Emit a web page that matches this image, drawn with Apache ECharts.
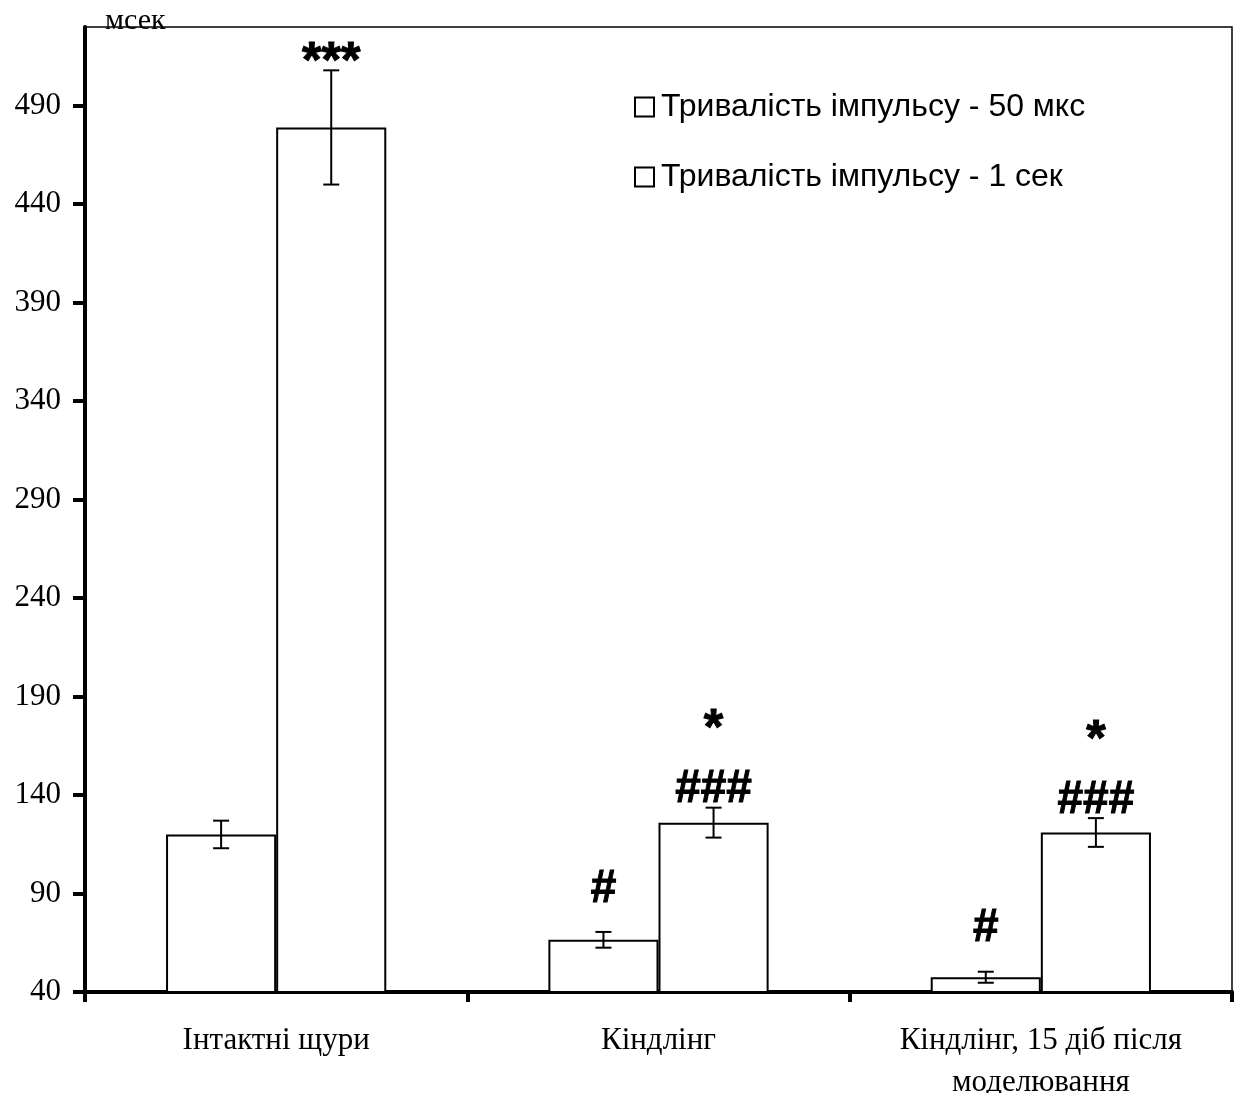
<!DOCTYPE html>
<html>
<head>
<meta charset="utf-8">
<script src="https://cdn.jsdelivr.net/npm/echarts@6/dist/echarts.min.js"></script>
<style>
html,body{margin:0;padding:0;background:#fff;}
#chart{width:1237px;height:1093px;}
</style>
</head>
<body>
<div id="chart"></div>
<script>
// ---- data ----
const categories = ['Інтактні щури', 'Кіндлінг', 'Кіндлінг, 15 діб після\nмоделювання'];
const seriesNames = ['Тривалість імпульсу - 50 мкс', 'Тривалість імпульсу - 1 сек'];
const mean50us = [120, 66.5, 47.5];
const err50us = [7, 4, 2.8];
const mean1s = [479, 126, 121];
const err1s = [29, 7.6, 7.3];
const annot50us = [[], ['#'], ['#']];
const annot1s = [['***'], ['###', '*'], ['###', '*']];
const yTicks = [40, 90, 140, 190, 240, 290, 340, 390, 440, 490];
const yMin = 40, yMax = 530;
const unitLabel = 'мсек';

// ---- styles ----
const BAR_FRAC = 0.288;
const SERIF = '"Liberation Serif", "Times New Roman", serif';
const SANS = '"Liberation Sans", Arial, sans-serif';
const annotLift = { '#': 43, '###': 18, '***': 20, '*': 90 };
const glyphShift = { '#': 0, '###': 0, '***': 13, '*': 13 };

function makeErr(side, annots) {
  return function (params, api) {
    const ci = api.value(0), m = api.value(1), e = api.value(2);
    const band = api.size([1, 0])[0];
    const cx = api.coord([ci, m])[0] + side * band * BAR_FRAC / 2;
    const yTop = api.coord([ci, m + e])[1];
    const yBot = api.coord([ci, m - e])[1];
    const cap = 8;
    const st = { stroke: '#000', lineWidth: 2 };
    const children = [
      { type: 'line', shape: { x1: cx, y1: yTop, x2: cx, y2: yBot }, style: st },
      { type: 'line', shape: { x1: cx - cap, y1: yTop, x2: cx + cap, y2: yTop }, style: st },
      { type: 'line', shape: { x1: cx - cap, y1: yBot, x2: cx + cap, y2: yBot }, style: st }
    ];
    (annots[params.dataIndex] || []).forEach(function (t) {
      const isStar = t.charAt(0) === '*';
      children.push({
        type: 'text',
        style: {
          text: t, x: cx, y: yTop - annotLift[t] + glyphShift[t],
          align: 'center', verticalAlign: 'middle',
          font: 'bold ' + (isStar ? 50 : 46) + 'px ' + SANS, fill: '#000',
          stroke: '#000', lineWidth: 1
        }
      });
    });
    return { type: 'group', children: children };
  };
}

const chart = echarts.init(document.getElementById('chart'), null, { renderer: 'canvas' });
chart.setOption({
  animation: false,
  backgroundColor: '#fff',
  grid: {
    left: 85, right: 5, top: 27, bottom: 101,
    outerBoundsMode: 'none', containLabel: false,
    show: true, borderColor: '#000', borderWidth: 1.5, backgroundColor: 'transparent'
  },
  legend: {
    orient: 'vertical', left: 629, top: 86, itemGap: 38,
    itemWidth: 19, itemHeight: 19, icon: 'rect',
    itemStyle: { color: '#fff', borderColor: '#000', borderWidth: 2 },
    textStyle: { fontFamily: SANS, fontSize: 32, color: '#000', padding: [0, 0, 0, 2] },
    data: seriesNames
  },
  graphic: [{
    type: 'text', left: 105, top: 6,
    style: { text: unitLabel, font: '30px ' + SERIF, fill: '#000' }
  }],
  xAxis: {
    type: 'category', data: categories,
    axisLine: { lineStyle: { color: '#000', width: 4 } },
    axisTick: { show: true, length: 10, lineStyle: { color: '#000', width: 4 } },
    axisLabel: { color: '#000', fontFamily: SERIF, fontSize: 31, lineHeight: 42, margin: 28 },
    splitLine: { show: false }
  },
  yAxis: {
    type: 'value', min: yMin, max: yMax,
    axisLine: { show: true, lineStyle: { color: '#000', width: 4 } },
    axisTick: { show: true, length: 12, customValues: yTicks, lineStyle: { color: '#000', width: 4 } },
    axisLabel: { color: '#000', fontFamily: SERIF, fontSize: 31, margin: 24, customValues: yTicks },
    splitLine: { show: false }
  },
  series: [
    {
      name: seriesNames[0], type: 'bar', data: mean50us,
      barWidth: (BAR_FRAC * 100) + '%', barGap: '0%',
      itemStyle: { color: '#fff', borderColor: '#000', borderWidth: 2 }
    },
    {
      name: seriesNames[1], type: 'bar', data: mean1s,
      barWidth: (BAR_FRAC * 100) + '%', barGap: '0%',
      itemStyle: { color: '#fff', borderColor: '#000', borderWidth: 2 }
    },
    {
      type: 'custom', renderItem: makeErr(-1, annot50us), z: 5,
      data: mean50us.map(function (v, i) { return [i, v, err50us[i]]; }),
      encode: { x: 0, y: 1 }
    },
    {
      type: 'custom', renderItem: makeErr(1, annot1s), z: 5,
      data: mean1s.map(function (v, i) { return [i, v, err1s[i]]; }),
      encode: { x: 0, y: 1 }
    }
  ]
});
</script>
</body>
</html>
